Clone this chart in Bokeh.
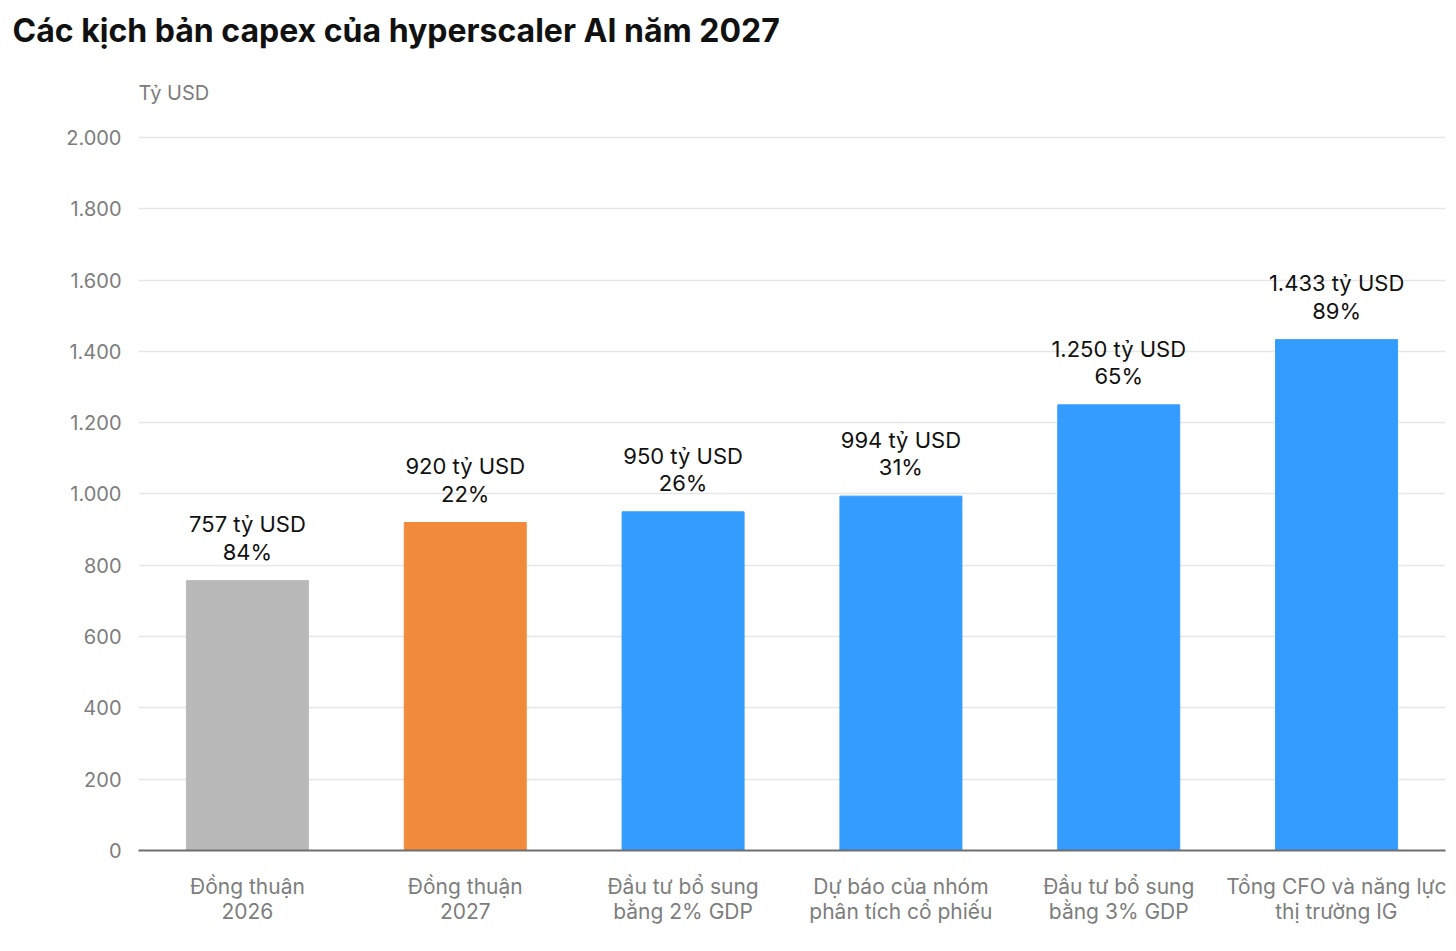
from bokeh.core.properties import value
from bokeh.embed import file_html
from bokeh.models import ColumnDataSource, FixedTicker, Label, Range1d, Title
from bokeh.plotting import figure
from bokeh.resources import INLINE

categories = ["Đồng thuận\n2026", "Đồng thuận\n2027", "Đầu tư bổ sung\nbằng 2% GDP",
              "Dự báo của nhóm\nphân tích cổ phiếu", "Đầu tư bổ sung\nbằng 3% GDP",
              "Tổng CFO và năng lực\nthị trường IG"]
capex = [757, 920, 950, 994, 1250, 1433]
shares = ["84%", "22%", "26%", "31%", "65%", "89%"]
colors = ["#b9b9b9", "#f28a3c", "#349cff", "#349cff", "#349cff", "#349cff"]
y_ticks = [0, 200, 400, 600, 800, 1000, 1200, 1400, 1600, 1800, 2000]

FONT = "Inter"

pos = [i + 0.5 for i in range(len(categories))]
labels = [f"{v:,} tỷ USD\n{s}".replace(",", ".") for v, s in zip(capex, shares)]
src = ColumnDataSource(dict(x=pos, top=capex, color=colors, label=labels))

# frame spans the chart plus room above 2.000 for the unit label
p = figure(width=1446, height=943, output_backend="svg", toolbar_location=None,
           x_range=Range1d(0, len(categories)), y_range=Range1d(0, 2230),
           min_border_left=138, min_border_right=1, min_border_top=55,
           min_border_bottom=93)
p.outline_line_color = None

p.vbar(x="x", top="top", width=0.56, color="color", source=src)
p.text(x="x", y="top", text="label", source=src, text_align="center",
       text_baseline="bottom", y_offset=-16, text_font=value(FONT),
       text_font_size="22px", text_color="#111111", text_line_height=1.05)

p.xgrid.visible = False
p.ygrid.grid_line_color = "#e6e6e6"
p.ygrid.grid_line_width = 1.5
p.ygrid.ticker = FixedTicker(ticks=y_ticks)

ya = p.yaxis[0]
ya.ticker = FixedTicker(ticks=y_ticks)
ya.major_label_overrides = {t: f"{t:,}".replace(",", ".") for t in y_ticks}
ya.axis_line_color = None
ya.major_tick_line_color = None
ya.minor_tick_line_color = None
ya.major_label_text_font = FONT
ya.major_label_text_font_size = "20px"
ya.major_label_text_color = "#7d7d7d"
ya.major_label_standoff = 11

xa = p.xaxis[0]
xa.ticker = FixedTicker(ticks=pos)
xa.major_label_overrides = {x: c for x, c in zip(pos, categories)}
xa.axis_line_color = "#6e6e6e"
xa.axis_line_width = 2
xa.major_tick_line_color = None
xa.minor_tick_line_color = None
xa.major_label_text_font = FONT
xa.major_label_text_font_size = "21px"
xa.major_label_text_color = "#7d7d7d"
xa.major_label_text_line_height = 1.0
xa.major_label_standoff = 17

p.add_layout(Label(x=0, y=2126, text="Tỷ USD", text_font=FONT, text_font_size="20px",
                   text_color="#7d7d7d", text_baseline="middle"))
p.add_layout(Title(text="Các kịch bản capex của hyperscaler AI năm 2027", align="left",
                   offset=-126, text_font=FONT, text_font_size="32px",
                   text_font_style="bold", text_color="#111111", standoff=12), "above")

open("out.html", "w").write(file_html(p, INLINE))
